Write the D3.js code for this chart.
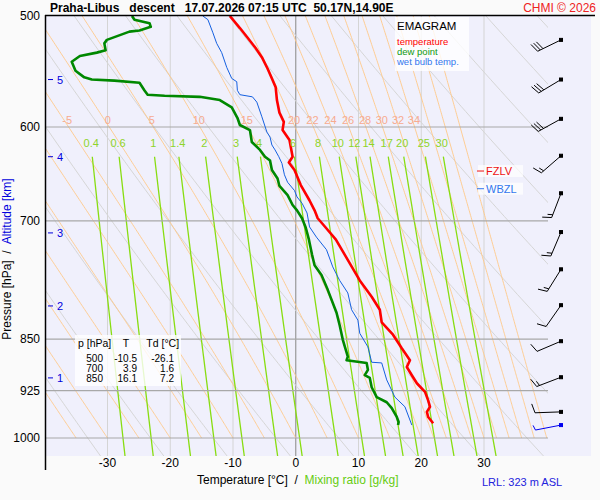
<!DOCTYPE html>
<meta charset="utf-8">
<style>
body { margin: 0; background: #fafafa; }
text { font-family: "Liberation Sans", Arial, sans-serif; white-space: pre; }
.bg { fill: #f0f0fc; }
.iso { stroke: #d4d4d4; stroke-width: 1; }
.iso0 { stroke: #999; stroke-width: 1.2; }
.bar { stroke: #a8a8a8; stroke-width: 1.2; }
.dry { fill: none; stroke: #d6d6d6; stroke-width: 1; }
.moist { fill: none; stroke: #ffc888; stroke-width: 0.9; }
.mix { fill: none; stroke: #88dd11; stroke-width: 1.3; }
.prof { fill: none; stroke-linejoin: round; }
</style>
<svg width="600" height="500"></svg>
<script src="https://d3js.org/d3.v7.min.js"></script>
<script>
// sounding (hPa / degC)
var tempP = [500,510,518,527,535,545,554,562,574,586,595,603,613,630,636,644,660,677,688,697,708,722,740,772,793,810,827,844,863,880,890,902,914,927,940,950,958,966,976];
var tempT = [-10.5,-8.9,-7.7,-6.4,-5.4,-4.5,-3.8,-3.2,-3.0,-2.6,-1.9,-2.1,-1.0,-0.5,-1.1,-0.2,0.8,2.2,3.0,3.5,4.8,6.4,7.8,10.2,12.1,13.4,13.7,15.5,16.9,18.2,17.7,18.5,19.3,20.6,21.1,21.4,20.9,21.1,21.9];

var dewP = [500,503,506,509,512,513,520,523,529,531,534,539,547,553,555,556,558,565,569,570,571,574,581,591,598,603,615,618,623,630,634,644,653,661,671,682,688,697,708,722,740,753,765,784,814,831,851,875,880,884,894,902,906,920,935,943,952,966,974,979];
var dewT = [-26.1,-25.7,-23.3,-23.1,-24.9,-26.5,-30.1,-30.5,-30.3,-31.7,-34.4,-35.7,-35.1,-33.7,-32.5,-28.9,-24.9,-24.1,-23.6,-20.9,-15.3,-12.1,-10.2,-9.3,-8.9,-7.3,-7.0,-6.5,-5.7,-4.9,-4.1,-3.8,-2.9,-2.6,-1.3,-0.5,0.2,1.0,1.6,2.1,2.6,3.0,4.1,5.1,6.5,7.0,7.5,8.3,8.1,11.3,11.5,11.0,11.8,12.1,12.9,14.5,15.3,16.1,16.4,16.3];

var wetP = [500,503,514,523,531,544,554,557,565,569,571,576,590,605,610,618,623,630,637,649,657,666,673,680,691,707,719,734,755,772,788,810,824,842,861,883,884,909,935,950,979];
var wetT = [-14.8,-14.0,-13.2,-12.6,-11.8,-11.0,-10.2,-9.4,-9.3,-8.9,-6.9,-6.2,-5.4,-4.6,-4.1,-3.8,-3.3,-2.7,-2.2,-1.8,-1.3,-0.2,0.2,1.0,1.8,2.2,3.3,4.9,5.9,7.0,8.3,8.9,9.9,10.2,11.5,12.1,13.7,14.5,15.8,17.4,18.5];

// wind (direction from, knots)
var windP = [520,555,592,629,669,713,758,804,853,905,958,979];
var windDir = [244,239,241,229,201,203,212,215,247,249,268,259];
var windKt = [30,30,30,15,15,15,15,10,10,15,10,5];

// reference lines
var isobars = [600,700,850,925,1000];
var isotherms = [-30,-20,-10,0,10,20,30];
var mixRatios = [0.4,0.6,1,1.4,2,3,4,6,8,10,12,14,17,20,25,30];
var thetaW = [-40,-35,-30,-25,-20,-15,-10,-5,0,5,10,15,20,22,24,26,28,30,32,34,36,38,40];
var thetaWLabels = [-5,0,5,10,15,20,22,24,26,28,30,32,34];
var thetaDry = d3.range(230, 480, 10);

var altKm = [1,2,3,4,5];
var altP = [906,805,714,630,555];

var tableP = [500,700,850];
var tableT = ["-10.5","3.9","16.1"];
var tableTd = ["-26.1","1.6","7.2"];

var fzlvP = 645, wbzlP = 664;

var svg = d3.select("svg");
var x = d3.scaleLinear().domain([-39.8, 40.2]).range([46, 548]);
var y = d3.scaleLog().domain([500, 1000]).range([16, 438]);
var pBottom = y.invert(456);

svg.append("rect").attr("class", "bg").attr("x", 46).attr("y", 16).attr("width", 545).attr("height", 440);

svg.append("defs").append("clipPath").attr("id", "clip")
  .append("rect").attr("x", 46).attr("y", 16).attr("width", 502).attr("height", 440);

var g = svg.append("g").attr("clip-path", "url(#clip)");

g.selectAll(".iso").data(isotherms).enter().append("line")
    .attr("class", function(d) { return d === 0 ? "iso0" : "iso"; })
    .attr("x1", x).attr("x2", x).attr("y1", 16).attr("y2", 456);

var line = d3.line().x(function(d) { return x(d[1]); }).y(function(d) { return y(d[0]); });

// dry adiabats
var pLev = d3.range(500, pBottom + 5, 5);
g.selectAll(".dry").data(thetaDry).enter().append("path").attr("class", "dry")
    .attr("d", function(th) {
      return line(pLev.map(function(p) { return [p, th * Math.pow(p / 1000, 0.286) - 273.15]; }));
    });

// pseudo-adiabats
function es(t) { return 6.112 * Math.exp(17.67 * t / (t + 243.5)); }
function moistPath(tw) {
  var pts = [], T = tw + 273.15, p = 1000, dp = -2;
  pts.push([p, tw]);
  while (p > 500) {
    var tc = T - 273.15, e = es(tc), rs = 0.622 * e / (p - e);
    var dTdlnp = (287 * T + 2.5e6 * rs) / (1004 + 2.5e6 * 2.5e6 * rs * 0.622 / (287 * T * T));
    T += dTdlnp * Math.log((p + dp) / p);
    p += dp;
    pts.push([p, T - 273.15]);
  }
  return pts;
}
var moist = thetaW.map(function(t) { return {t: t, pts: moistPath(t)}; });
g.selectAll(".moist").data(moist).enter().append("path").attr("class", "moist")
    .attr("d", function(d) { return line(d.pts); });

// mixing ratio lines
function tdFromW(w, p) {
  var e = w * p / (622 + w), l = Math.log(e / 6.112);
  return 243.5 * l / (17.67 - l);
}
var mixTop = 630;
g.selectAll(".mix").data(mixRatios).enter().append("path").attr("class", "mix")
    .attr("d", function(w) {
      return line(d3.range(mixTop, pBottom + 5, 5).map(function(p) { return [p, tdFromW(w, p)]; }));
    });

g.selectAll(".bar").data(isobars).enter().append("line").attr("class", "bar")
    .attr("x1", 46).attr("x2", 548).attr("y1", y).attr("y2", y);

// labels of moist adiabats and mixing lines
svg.selectAll(".twl").data(moist.filter(function(d) { return thetaWLabels.indexOf(d.t) >= 0; }))
  .enter().append("text")
    .attr("x", function(d) {
      var q = d.pts.find(function(v) { return v[0] <= 598; });
      return x(q[1]);
    })
    .attr("y", 124).attr("text-anchor", "middle")
    .style("font-size", "11px").style("fill", "#f7ab90")
    .text(function(d) { return d.t; });

svg.selectAll(".mrl").data(mixRatios).enter().append("text")
    .attr("x", function(w) { return x(tdFromW(w, 620)); })
    .attr("y", 147).attr("text-anchor", "middle")
    .style("font-size", "11px").style("fill", "#8ed42a")
    .text(function(w) { return w; });

// profiles
function prof(P, T, color, w) {
  g.append("path").attr("class", "prof")
      .datum(P.map(function(p, i) { return [p, T[i]]; }))
      .attr("d", line).style("stroke", color).style("stroke-width", w);
}
prof(wetP, wetT, "#1560e0", 1);
prof(dewP, dewT, "#008800", 2.6);
prof(tempP, tempT, "#ff0000", 2.6);

// axes frame
svg.append("line").attr("x1", 45.5).attr("x2", 45.5).attr("y1", 15).attr("y2", 470).style("stroke", "#000").style("stroke-width", 1.5);
svg.append("line").attr("x1", 45).attr("x2", 595).attr("y1", 15.5).attr("y2", 15.5).style("stroke", "#000").style("stroke-width", 1.5);

svg.selectAll(".pl").data([500].concat(isobars)).enter().append("text")
    .attr("x", 40).attr("y", function(p) { return y(p) + 4; })
    .attr("text-anchor", "end").style("font-size", "12px").text(function(p) { return p; });

svg.selectAll(".tl").data(isotherms).enter().append("text")
    .attr("x", x).attr("y", 467).attr("text-anchor", "middle")
    .style("font-size", "12px").text(function(t) { return t; });

// altitude ticks
var alt = svg.selectAll(".alt").data(altKm).enter().append("g");
alt.append("line").attr("x1", 48).attr("x2", 53)
    .attr("y1", function(d, i) { return y(altP[i]); }).attr("y2", function(d, i) { return y(altP[i]); })
    .style("stroke", "#0000dd");
alt.append("text").attr("x", 57).attr("y", function(d, i) { return y(altP[i]) + 4; })
    .style("font-size", "11px").style("fill", "#0000dd").text(function(d) { return d; });

// axis titles
var yt = svg.append("text").attr("transform", "translate(11,259) rotate(-90)")
    .attr("text-anchor", "middle").style("font-size", "12px");
yt.append("tspan").text("Pressure [hPa]  /  ");
yt.append("tspan").style("fill", "#0000dd").text("Altitude [km]");

var xt = svg.append("text").attr("x", 197).attr("y", 484).style("font-size", "12px");
xt.append("tspan").text("Temperature [°C]  /  ");
xt.append("tspan").style("fill", "#66cc11").text("Mixing ratio [g/kg]");

svg.append("text").attr("x", 482).attr("y", 486).style("font-size", "11px").style("fill", "#2222dd").text("LRL: 323 m ASL");

// title
svg.append("text").attr("x", 50).attr("y", 12).style("font-size", "12px").style("font-weight", "bold")
    .text("Praha-Libus   descent   17.07.2026 07:15 UTC  50.17N,14.90E");
svg.append("text").attr("x", 596).attr("y", 12).attr("text-anchor", "end")
    .style("font-size", "12px").style("fill", "#ee2222").text("CHMI © 2026");

// legend
svg.append("rect").attr("x", 395).attr("y", 17).attr("width", 74).attr("height", 54).style("fill", "#fff").style("fill-opacity", 0.8);
svg.append("text").attr("x", 397).attr("y", 30).style("font-size", "11.5px").text("EMAGRAM");
[["temperature", "#ff0000"], ["dew point", "#119911"], ["wet bulb temp.", "#3377ee"]].forEach(function(d, i) {
  svg.append("text").attr("x", 397).attr("y", 45 + i * 10).style("font-size", "9.5px").style("fill", d[1]).text(d[0]);
});

// table
svg.append("rect").attr("x", 75).attr("y", 335).attr("width", 106).attr("height", 51).style("fill", "#fff").style("fill-opacity", 0.8);
svg.append("text").attr("x", 78).attr("y", 347).style("font-size", "10.5px").text("p [hPa]    T      Td [°C]");
tableP.forEach(function(p, i) {
  var ty = 362 + i * 10;
  svg.append("text").attr("x", 103).attr("y", ty).attr("text-anchor", "end").style("font-size", "10px").text(p);
  svg.append("text").attr("x", 137).attr("y", ty).attr("text-anchor", "end").style("font-size", "10px").text(tableT[i]);
  svg.append("text").attr("x", 174).attr("y", ty).attr("text-anchor", "end").style("font-size", "10px").text(tableTd[i]);
});

// freezing / wet bulb zero levels
[[fzlvP, "FZLV", "#ee1111"], [wbzlP, "WBZL", "#3377ee"]].forEach(function(d) {
  var ly = y(d[0]);
  svg.append("rect").attr("x", 478).attr("y", ly - 6).attr("width", 45).attr("height", 12).style("fill", "#fff").style("fill-opacity", 0.7);
  svg.append("line").attr("x1", 477).attr("x2", 484).attr("y1", ly).attr("y2", ly).style("stroke", d[2]);
  svg.append("text").attr("x", 486).attr("y", ly + 4).style("font-size", "11px").style("fill", d[2]).text(d[1]);
});

// wind barbs
windP.forEach(function(p, i) {
  var col = i === windP.length - 1 ? "#0000ee" : "#000";
  var bx = 561, by = y(p), L = 26;
  var a = windDir[i] * Math.PI / 180, sx = Math.sin(a), sy = -Math.cos(a);
  var px = -sy, py = sx;
  var bg = svg.append("g").style("stroke", col).style("stroke-width", 1).style("fill", "none");
  bg.append("rect").attr("x", bx - 1.5).attr("y", by - 1.5).attr("width", 3).attr("height", 3).style("fill", col);
  var tx = bx + sx * L, ty = by + sy * L;
  bg.append("line").attr("x1", bx).attr("y1", by).attr("x2", tx).attr("y2", ty);
  var kt = windKt[i], pos = 0;
  while (kt >= 10) {
    var ox = tx - sx * pos, oy = ty - sy * pos;
    bg.append("line").attr("x1", ox).attr("y1", oy).attr("x2", ox + px * 9 + sx * 3).attr("y2", oy + py * 9 + sy * 3);
    kt -= 10; pos += 3;
  }
  if (kt >= 5) {
    var hx = tx - sx * pos, hy = ty - sy * pos;
    bg.append("line").attr("x1", hx).attr("y1", hy).attr("x2", hx + px * 5 + sx * 1.5).attr("y2", hy + py * 5 + sy * 1.5);
  }
});
</script>
